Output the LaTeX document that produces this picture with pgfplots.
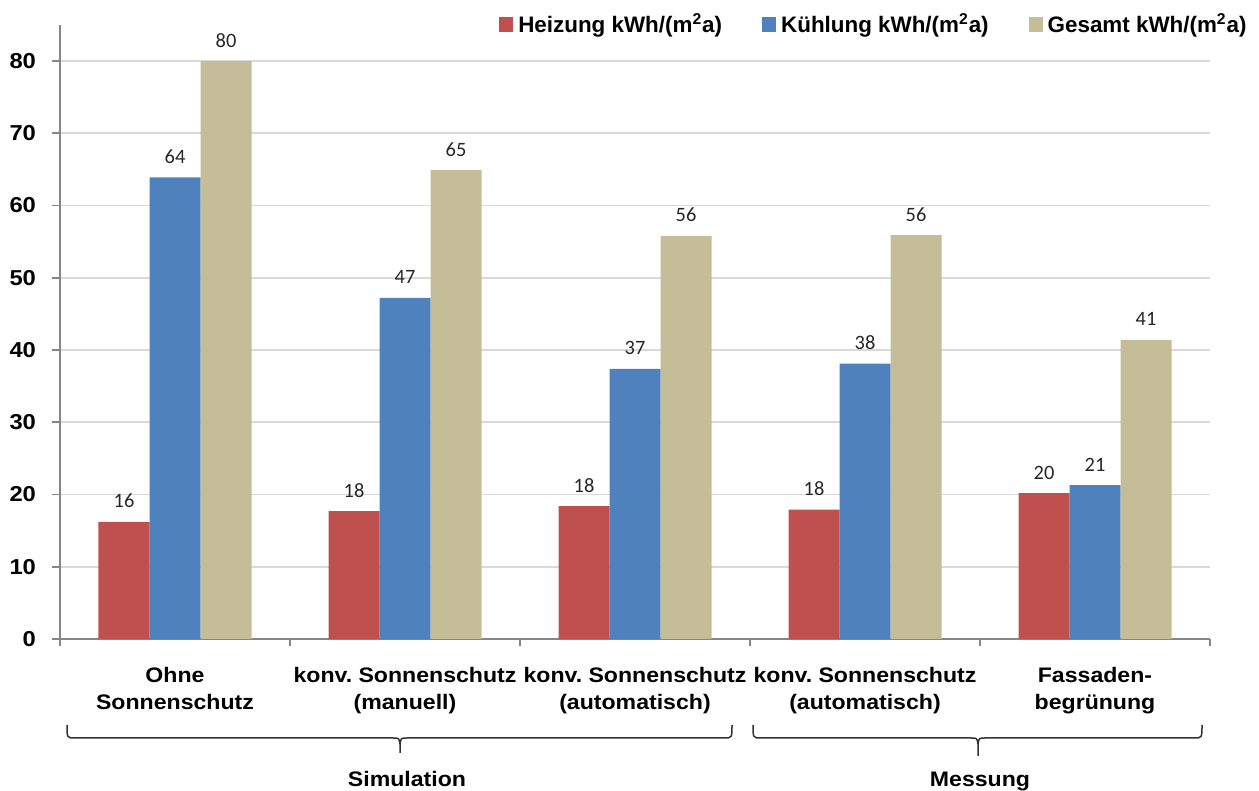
\documentclass[border=0pt]{standalone}
\usepackage{fontspec}
\setmainfont{Liberation Sans}[FakeStretch=1.1]
\newfontfamily\legfont{Liberation Sans}
\newfontfamily\calibri{Carlito}
\usepackage{pgfplots}
\pgfplotsset{compat=1.18}
\definecolor{cred}{HTML}{C0504D}
\definecolor{cblue}{HTML}{4F81BD}
\definecolor{ctan}{HTML}{C4BD97}
\definecolor{gridc}{HTML}{D9D9D9}
\definecolor{axisc}{HTML}{868686}
\frenchspacing
\begin{document}
\begin{tikzpicture}
\path[use as bounding box] (0,0) rectangle (629.5pt,395.5pt);
\begin{axis}[
  at={(30pt,76pt)}, anchor=south west,
  scale only axis, width=575pt, height=307.06pt,
  ybar=0pt, bar width=25.5pt,
  xmin=-0.5, xmax=4.5, ymin=0, ymax=85,
  axis x line*=bottom, axis y line*=left,
  axis line style={-, draw=axisc, line width=0.8pt},
  xtick={0,1,2,3,4},
  xticklabels={{Ohne\\Sonnenschutz},{konv. Sonnenschutz\\(manuell)},{konv. Sonnenschutz\\(automatisch)},{konv. Sonnenschutz\\(automatisch)},{Fassaden-\\begrünung}},
  minor xtick={-0.5,0.5,1.5,2.5,3.5,4.5},
  ytick={0,10,...,80},
  tick align=outside, major tick length=4pt, minor tick length=3.5pt,
  every tick/.style={draw=axisc, line width=0.8pt},
  major x tick style={draw=none},
  ymajorgrids, grid style={draw=gridc, line width=0.8pt},
  /pgf/number format/assume math mode=true,
  xticklabel style={align=center, font=\bfseries\fontsize{10.5}{13.5}\selectfont, text=black, yshift=-6.5pt},
  yticklabel style={font=\bfseries\fontsize{10.8}{12}\selectfont, xshift=-4.5pt, text=black},
  point meta=explicit symbolic,
  nodes near coords,
  nodes near coords align={anchor=base, yshift=7pt},
  every node near coord/.append style={font=\calibri\fontsize{10.2}{12}\selectfont, inner sep=0pt, text=black!85},
  legend columns=3,
  legend image code/.code={\fill[#1] (0pt,-3.75pt) rectangle (7pt,3.75pt);},
  legend style={at={(1.0322,1.0)}, anchor=east, draw=none, fill=none, inner sep=0pt,
    font=\legfont\bfseries\fontsize{11.2}{13}\selectfont,
    nodes={inner sep=0pt},
    /tikz/every odd column/.append style={column sep=2.5pt},
    /tikz/every even column/.append style={column sep=20pt}},
  legend cell align=left,
]
\addplot[fill=cred, draw=none] coordinates {(0,16.2) [16] (1,17.7) [18] (2,18.4) [18] (3,17.9) [18] (4,20.2) [20]};
\addplot[fill=cblue, draw=none] coordinates {(0,63.9) [64] (1,47.2) [47] (2,37.4) [37] (3,38.1) [38] (4,21.3) [21]};
\addplot[fill=ctan, draw=none] coordinates {(0,80.0) [80] (1,64.9) [65] (2,55.8) [56] (3,55.9) [56] (4,41.4) [41]};
\legend{Heizung kWh/(m\textsuperscript{2}a),Kühlung kWh/(m\textsuperscript{2}a),Gesamt kWh/(m\textsuperscript{2}a)}
\end{axis}
\begin{scope}[x=0.5pt, y=-0.5pt, yshift=395.5pt]
\draw[line width=0.75pt, black!80]
 (67,725) .. controls (67,738) .. (75,738) -- (393,738) .. controls (399,738) .. (400,744) -- (400,753)
 (400,744) .. controls (401,738) .. (407,738) -- (724,738) .. controls (732,738) .. (732,725);
\draw[line width=0.75pt, black!80]
 (753,725) .. controls (753,738) .. (761,738) -- (971,738) .. controls (977,738) .. (978,744) -- (978,756)
 (978,744) .. controls (979,738) .. (985,738) -- (1194,738) .. controls (1202,738) .. (1202,725);
\node[anchor=base, font=\bfseries\fontsize{10.5}{12}\selectfont, inner sep=0pt] at (407,787) {Simulation};
\node[anchor=base, font=\bfseries\fontsize{10.5}{12}\selectfont, inner sep=0pt] at (980,787) {Messung};
\end{scope}
\end{tikzpicture}
\end{document}
